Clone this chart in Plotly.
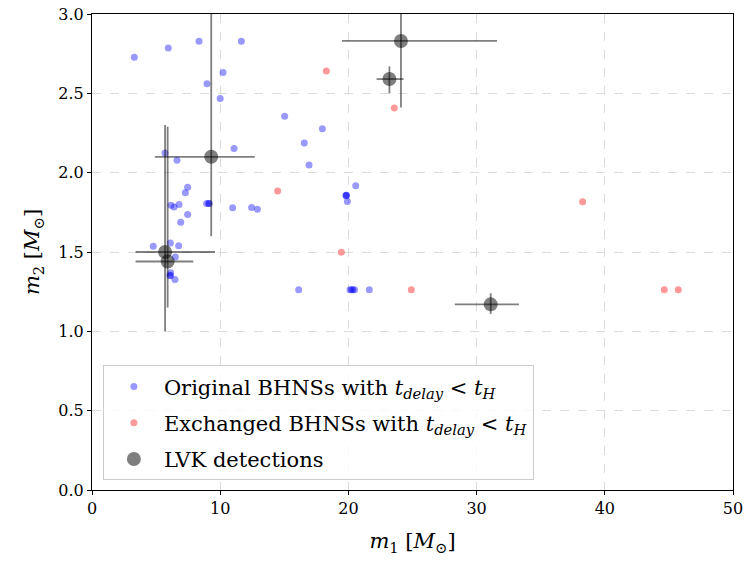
import plotly.graph_objects as go

# Original BHNSs (blue)
orig_m1 = [3.30, 5.95, 8.35, 11.65, 10.22, 8.97, 10.0, 15.03, 11.08, 5.69, 6.63, 17.97, 16.56, 16.93,
           20.57, 7.46, 7.28, 6.16, 6.40, 6.79, 8.94, 9.10, 9.15, 10.97, 12.45, 12.90, 7.46, 6.92,
           4.78, 6.11, 6.76, 6.50, 6.14, 6.08, 6.12, 6.47, 19.81, 19.85, 19.83, 19.92,
           16.12, 20.12, 20.25, 20.35, 20.48, 21.63]
orig_m2 = [2.727, 2.786, 2.828, 2.828, 2.632, 2.561, 2.468, 2.355, 2.153, 2.124, 2.078, 2.277, 2.187, 2.048,
           1.918, 1.908, 1.874, 1.794, 1.784, 1.800, 1.805, 1.805, 1.805, 1.779, 1.781, 1.769, 1.737, 1.687,
           1.536, 1.556, 1.540, 1.468, 1.370, 1.353, 1.350, 1.326, 1.857, 1.857, 1.855, 1.819,
           1.262, 1.262, 1.262, 1.262, 1.262, 1.262]

# Exchanged BHNSs (red)
exch_m1 = [14.48, 18.28, 23.58, 38.27, 19.45, 24.91, 44.64, 45.73]
exch_m2 = [1.884, 2.641, 2.407, 1.817, 1.498, 1.262, 1.262, 1.262]

# LVK detections
lvk_m1 = [5.7, 5.9, 9.3, 23.2, 24.1, 31.1]
lvk_m1_plus = [3.9, 2.0, 3.4, 1.1, 7.5, 2.2]
lvk_m1_minus = [2.3, 2.5, 4.4, 1.0, 4.6, 2.8]
lvk_m2 = [1.5, 1.44, 2.1, 2.59, 2.83, 1.17]
lvk_m2_plus = [0.8, 0.85, 1.5, 0.08, 0.47, 0.07]
lvk_m2_minus = [0.5, 0.29, 0.5, 0.09, 0.42, 0.06]

x_ticks = [0, 10, 20, 30, 40, 50]
y_ticks = [0.0, 0.5, 1.0, 1.5, 2.0, 2.5, 3.0]

FONT = "DejaVu Serif"

fig = go.Figure()
fig.add_trace(go.Scatter(
    x=orig_m1, y=orig_m2, mode="markers", legendgroup="a",
    marker=dict(color="rgba(0,0,255,0.4)", size=7, line=dict(width=0)),
    name="Original BHNSs with <i>t</i><sub><i>delay</i></sub> &lt; <i>t</i><sub><i>H</i></sub>",
))
fig.add_trace(go.Scatter(
    x=exch_m1, y=exch_m2, mode="markers", legendgroup="b",
    marker=dict(color="rgba(255,0,0,0.4)", size=7, line=dict(width=0)),
    name="Exchanged BHNSs with <i>t</i><sub><i>delay</i></sub> &lt; <i>t</i><sub><i>H</i></sub>",
))
fig.add_trace(go.Scatter(
    x=lvk_m1, y=lvk_m2, mode="markers", legendgroup="c",
    marker=dict(color="rgba(0,0,0,0.5)", size=14, line=dict(width=0)),
    error_x=dict(type="data", symmetric=False, array=lvk_m1_plus, arrayminus=lvk_m1_minus,
                 color="rgba(0,0,0,0.5)", thickness=1.8, width=0),
    error_y=dict(type="data", symmetric=False, array=lvk_m2_plus, arrayminus=lvk_m2_minus,
                 color="rgba(0,0,0,0.5)", thickness=1.8, width=0),
    name="LVK detections",
))

axis_common = dict(
    showline=True, linecolor="black", linewidth=1.2, mirror=True,
    ticks="outside", ticklen=4, tickwidth=1, tickcolor="black",
    showgrid=True, gridcolor="#dcdcdc", griddash="dash", gridwidth=1,
    zeroline=False, automargin=False,
    tickfont=dict(family=FONT, size=16, color="black"),
)

fig.update_layout(
    width=746, height=561,
    margin=dict(l=92, r=13, t=14, b=71, autoexpand=False),
    paper_bgcolor="white", plot_bgcolor="white",
    font=dict(family=FONT, color="black"),
    xaxis=dict(range=[0, 50], tickvals=x_ticks, ticktext=[str(v) for v in x_ticks],
               title=dict(text="<i>m</i><sub>1</sub> [<i>M</i><sub>⊙</sub>]",
                          font=dict(family=FONT, size=21), standoff=16),
               **axis_common),
    yaxis=dict(range=[0, 3], tickvals=y_ticks, ticktext=[f"{v:.1f}" for v in y_ticks],
               title=dict(text="<i>m</i><sub>2</sub> [<i>M</i><sub>⊙</sub>]",
                          font=dict(family=FONT, size=21), standoff=12),
               **axis_common),
    legend=dict(
        x=0.017, y=0.262, xanchor="left", yanchor="top",
        bgcolor="rgba(255,255,255,0.8)", bordercolor="#cccccc", borderwidth=1,
        font=dict(family=FONT, size=21, color="black"),
        itemsizing="trace", tracegroupgap=6, itemwidth=50,
    ),
    showlegend=True,
)

fig.write_html("out.html")
